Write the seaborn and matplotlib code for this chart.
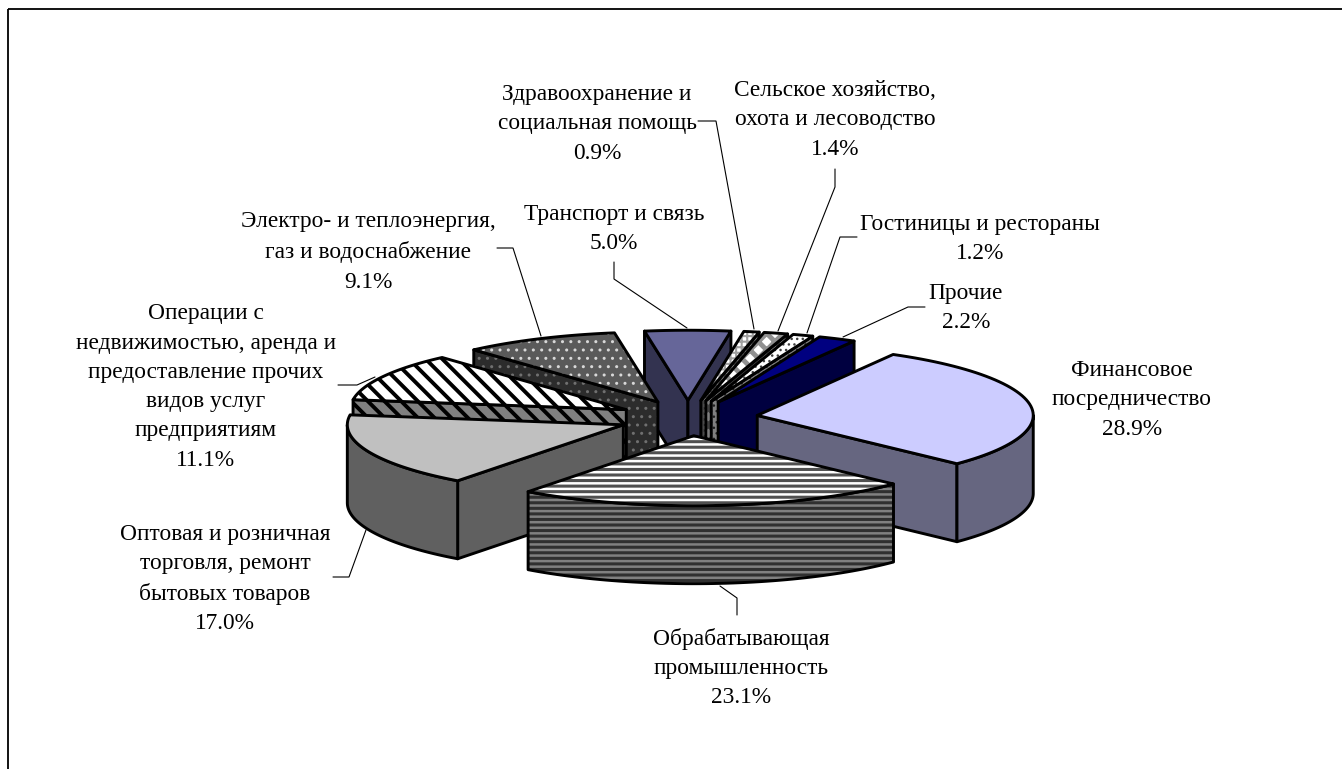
import numpy as np
import matplotlib
matplotlib.use('Agg')
import matplotlib.pyplot as plt
from matplotlib.patches import Polygon, Rectangle
import seaborn as sns

# данные
names = ['Финансовое\nпосредничество', 'Обрабатывающая\nпромышленность',
         'Оптовая и розничная\nторговля, ремонт\nбытовых товаров',
         'Операции с\nнедвижимостью, аренда и\nпредоставление прочих\nвидов услуг\nпредприятиям',
         'Электро- и теплоэнергия,\nгаз и водоснабжение', 'Транспорт и связь',
         'Здравоохранение и\nсоциальная помощь', 'Сельское хозяйство,\nохота и лесоводство',
         'Гостиницы и рестораны', 'Прочие']
values = [28.9, 23.1, 17.0, 11.1, 9.1, 5.0, 0.9, 1.4, 1.2, 2.2]

# оформление секторов
top_colors = ['#CCCCFF', '#FFFFFF', '#C0C0C0', '#FFFFFF', '#5A5A5A', '#666699', '#FFFFFF', '#FFFFFF', '#FFFFFF', '#000080']
wall_colors = ['#666680', '#808080', '#606060', '#808080', '#2C2C2C', '#333350', '#808080', '#808080', '#808080', '#000040']
top_hatch_colors = [None, '#505050', None, '#000000', '#D8D8D8', None, '#A0A0A0', '#909090', '#404040', None]
wall_hatch_colors = [None, '#303030', None, '#000000', '#707070', None, '#404040', '#404040', '#202020', None]
hatches = [None, '---', None, '\\\\', '..', None, '+++', 'xx', '...', None]
hatch_widths = [1, 2.2, 1, 2.8, 1, 1, 1.5, 3.5, 1, 1]

# положения подписей
label_x = [1132, 741, 225, 206, 368, 614, 597, 835, 980, 966]
label_y = [400, 668, 579, 387, 252, 229, 124, 120, 239, 308]
leaders = [None,
           [(737, 615), (737, 598), (720, 586)],
           [(333, 577), (349, 577), (366, 530)],
           [(338, 385), (357, 385), (375, 377)],
           [(497, 248), (513, 248), (541, 336)],
           [(614, 262), (614, 279), (687, 328)],
           [(698, 121), (716, 121), (754, 329)],
           [(835, 169), (835, 187), (778, 331)],
           [(857, 237), (840, 237), (807, 333)],
           [(925, 307), (908, 307), (843, 337)]]

# геометрия псевдо-3D круга
cx, cy = 688, 418
rx, ry = 276, 70
depth = 78
explode = 70
start_angle = 29.5

sns.set_theme(style='white')
plt.rcParams['font.family'] = ['Liberation Serif', 'DejaVu Sans']

fig = plt.figure(figsize=(13.42, 7.69), dpi=100, facecolor='white')
ax = fig.add_axes([0, 0, 1, 1])
ax.set_xlim(0, 1342)
ax.set_ylim(769, 0)
ax.axis('off')

# рамка диаграммы (нижний край обрезан)
ax.add_patch(Rectangle((8, 9), 1400, 800, fill=False, edgecolor='black', lw=1.3))


def arc(apex, t1, t2, dy=0):
    t = np.radians(np.linspace(t1, t2, 60))
    return np.column_stack([apex[0] + rx * np.sin(t), apex[1] - ry * np.cos(t) + dy])


def face(points, color, hatch, hatch_color, width, z):
    if hatch:
        p = Polygon(points, closed=True, facecolor=color, edgecolor=hatch_color, hatch=hatch, lw=0, zorder=z)
        p.set_hatch_linewidth(width)
        ax.add_patch(p)
    else:
        ax.add_patch(Polygon(points, closed=True, facecolor=color, edgecolor='none', zorder=z))
    ax.add_patch(Polygon(points, closed=True, fill=False, edgecolor='black', lw=2.1, joinstyle='round', zorder=z))


shares = np.array(values) / sum(values) * 360
starts = start_angle + np.concatenate([[0], np.cumsum(shares)[:-1]])
ends = starts + shares
mids = (starts + ends) / 2

# сначала дальние секторы, потом ближние
order = np.argsort(-np.cos(np.radians(mids)))
z = 2
for i in order:
    m = np.radians(mids[i])
    apex = (cx + explode * np.sin(m), cy - explode * ry / rx * np.cos(m))
    style = (wall_colors[i], hatches[i], wall_hatch_colors[i], hatch_widths[i])
    t1, t2 = starts[i], ends[i]
    low = (apex[0], apex[1] + depth)
    if np.sin(np.radians(t1)) < 0:
        p = arc(apex, t1, t1)[0]
        face([apex, p, (p[0], p[1] + depth), low], *style, z)
    if np.sin(np.radians(t2)) > 0:
        p = arc(apex, t2, t2)[0]
        face([apex, p, (p[0], p[1] + depth), low], *style, z)
    a1, a2 = max(t1, 90), min(t2, 270)
    if a1 < a2:
        face(np.vstack([arc(apex, a1, a2), arc(apex, a2, a1, depth)]), *style, z)
    face(np.vstack([[apex], arc(apex, t1, t2)]), top_colors[i], hatches[i], top_hatch_colors[i], hatch_widths[i], z)
    z += 1

# подписи и выноски
for i in range(len(names)):
    ax.text(label_x[i], label_y[i], f'{names[i]}\n{values[i]:.1f}%', ha='center', va='center',
            fontsize=16.8, color='black', linespacing=1.52, zorder=50)
    if leaders[i]:
        xs, ys = zip(*leaders[i])
        ax.plot(xs, ys, color='black', lw=0.8, zorder=40, solid_joinstyle='miter')

fig.savefig('out.png', dpi=100)
plt.close(fig)
